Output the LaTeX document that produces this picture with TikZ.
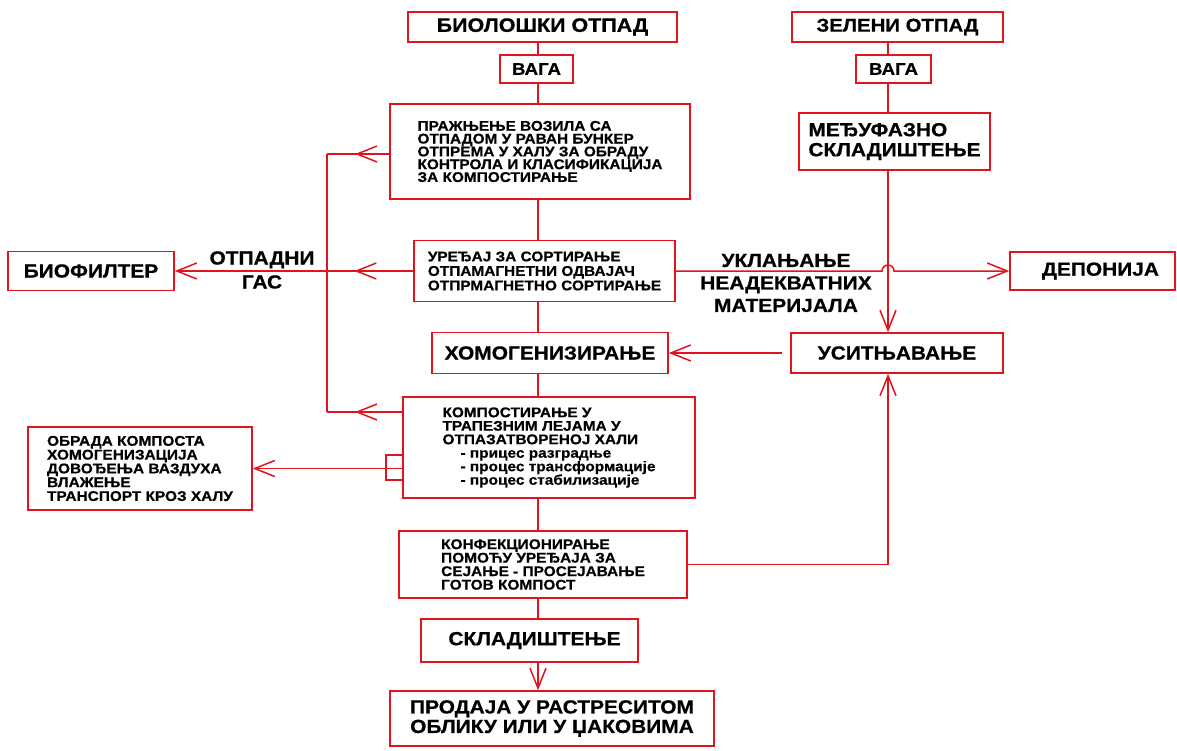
\documentclass[tikz,border=0pt]{standalone}
\usepackage{fontspec}
\setmainfont{Liberation Sans}[FakeStretch=1.1, BoldFeatures={FakeBold=0.6}]
\usetikzlibrary{arrows.meta,decorations.markings,calc}
\definecolor{lr}{RGB}{225,20,30}
\begin{document}
\begin{tikzpicture}[x=1pt,y=-1pt,
  box/.style={draw=lr, line width=1.5pt, inner sep=0pt, align=left},
  big/.style={font=\bfseries\fontsize{19}{22}\selectfont},
  title/.style={font=\bfseries\fontsize{19.5}{22}\selectfont},
  small/.style={font=\bfseries\fontsize{14}{13.5}\selectfont},
  lbl/.style={align=center, inner sep=0pt},
  conn/.style={draw=lr, line width=1.5pt},
  arr/.style={conn, -{Straight Barb[length=20pt,width=16pt]}},
  midarr/.style={conn, decoration={markings, mark=at position #1 with {\arrow{Straight Barb[length=20pt,width=16pt]}}}, postaction=decorate}
]
\fill[white] (0,0) rectangle (1177,751);
\useasboundingbox (0,0) rectangle (1177,751);
\coordinate (mx) at (538,0);
\coordinate (rx) at (888,0);
\coordinate (fb1) at (327,154);
\coordinate (fb3) at (327,412);

% left column (biological waste)
\node[box,title,minimum width=269pt,minimum height=30pt] (bio) at (542.5,27) {БИОЛОШКИ ОТПАД};
\node[box,big,minimum width=73pt,minimum height=28pt,font=\bfseries\fontsize{17}{20}\selectfont] (vaga1) at (536.5,69) {ВАГА};
\node[box,small,minimum width=300pt,minimum height=95pt,font=\bfseries\fontsize{14}{12.8}\selectfont] (prazn) at (540,151.5) {ПРАЖЊЕЊЕ ВОЗИЛА СА\\ОТПАДОМ У РАВАН БУНКЕР\\ОТПРЕМА У ХАЛУ ЗА ОБРАДУ\\КОНТРОЛА И КЛАСИФИКАЦИЈА\\ЗА КОМПОСТИРАЊЕ};
\node[box,small,minimum width=261pt,minimum height=61pt,font=\bfseries\fontsize{14}{14.5}\selectfont] (sort) at (544.5,271) {УРЕЂАЈ ЗА СОРТИРАЊЕ\\ОТПАМАГНЕТНИ ОДВАЈАЧ\\ОТПРМАГНЕТНО СОРТИРАЊЕ};
\node[box,big,minimum width=236pt,minimum height=41pt] (homog) at (550,353) {ХОМОГЕНИЗИРАЊЕ};
\node[box,small,minimum width=292pt,minimum height=101pt] (comp) at (549,447.5) {КОМПОСТИРАЊЕ У\\ТРАПЕЗНИМ ЛЕЈАМА У\\ОТПАЗАТВОРЕНОЈ ХАЛИ\\\hspace*{18pt}- прицес разградње\\\hspace*{18pt}- процес трансформације\\\hspace*{18pt}- процес стабилизације};
\node[box,small,minimum width=288pt,minimum height=67pt] (konf) at (543,564.5) {КОНФЕКЦИОНИРАЊЕ\\ПОМОЋУ УРЕЂАЈА ЗА\\СЕЈАЊЕ - ПРОСЕЈАВАЊЕ\\ГОТОВ КОМПОСТ};
\node[box,big,minimum width=217pt,minimum height=43pt] (sklad) at (529.5,640.5) {\hspace*{10pt}СКЛАДИШТЕЊЕ};
\node[box,big,align=center,minimum width=324pt,minimum height=55pt,font=\bfseries\fontsize{19}{19.5}\selectfont] (prod) at (552,718.5) {ПРОДАЈА У РАСТРЕСИТОМ\\ОБЛИКУ ИЛИ У ЏАКОВИМА};

% right column (green waste)
\node[box,title,minimum width=211pt,minimum height=30pt,font=\bfseries\fontsize{18.5}{22}\selectfont] (zel) at (897.5,27) {ЗЕЛЕНИ ОТПАД};
\node[box,big,minimum width=75pt,minimum height=28pt,font=\bfseries\fontsize{17}{20}\selectfont] (vaga2) at (893.5,69) {ВАГА};
\node[box,big,minimum width=191pt,minimum height=57pt,font=\bfseries\fontsize{19}{20}\selectfont] (medju) at (894.5,141.5) {МЕЂУФАЗНО\\СКЛАДИШТЕЊЕ};
\node[box,big,minimum width=212pt,minimum height=40pt] (usit) at (897,353) {УСИТЊАВАЊЕ};
\node[box,big,minimum width=165pt,minimum height=38pt] (dep) at (1092.5,271) {\hspace*{16pt}ДЕПОНИЈА};

% left side
\node[box,big,minimum width=166pt,minimum height=39pt] (biof) at (91,271) {БИОФИЛТЕР};
\node[box,small,minimum width=224pt,minimum height=83pt,font=\bfseries\fontsize{14}{13.8}\selectfont] (obr) at (140,468.5) {ОБРАДА КОМПОСТА\\ХОМОГЕНИЗАЦИЈА\\ДОВОЂЕЊА ВАЗДУХА\\ВЛАЖЕЊЕ\\ТРАНСПОРТ КРОЗ ХАЛУ};

% labels
\node[lbl,big,font=\bfseries\fontsize{19}{24}\selectfont] (gas) at (262,270) {ОТПАДНИ\\ГАС};
\node[lbl,big,font=\bfseries\fontsize{19}{22.5}\selectfont] (ukl) at (786,283) {УКЛАЊАЊЕ\\НЕАДЕКВАТНИХ\\МАТЕРИЈАЛА};

% main vertical line
\draw[conn] (bio.south -| mx) -- (vaga1.north -| mx);
\draw[conn] (vaga1.south -| mx) -- (prazn.north -| mx);
\draw[conn] (prazn.south -| mx) -- (sort.north -| mx);
\draw[conn] (sort.south -| mx) -- (homog.north -| mx);
\draw[conn] (homog.south -| mx) -- (comp.north -| mx);
\draw[conn] (comp.south -| mx) -- (konf.north -| mx);
\draw[conn] (konf.south -| mx) -- (sklad.north -| mx);
\draw[arr] (sklad.south -| mx) -- (prod.north -| mx);

% right vertical line
\draw[conn] (zel.south -| rx) -- (vaga2.north -| rx);
\draw[conn] (vaga2.south -| rx) -- (medju.north -| rx);
\draw[arr] (medju.south -| rx) -- (usit.north -| rx);
\draw[arr] (konf.east) -- (konf.east -| rx) -- (usit.south -| rx);
\draw[arr, shorten <=8pt] (usit.west) -- (homog.east);

% removal to landfill with jump
\draw[arr] (sort.east) -- ($(sort.east -| rx)+(-6,0)$) arc[start angle=180,end angle=0,radius=6pt] -- (dep.west);

% exhaust gas feedback
\draw[midarr=-28pt] (prazn.west |- fb1) -- (fb1);
\draw[conn] (fb1) -- (fb3);
\draw[midarr=-28pt] (comp.west |- fb3) -- (fb3);
\draw[arr, midarr=59pt] (sort.west) -- (biof.east);

% compost processing bracket
\coordinate (br1) at (386,455);
\coordinate (br2) at (386,480);
\draw[conn] (comp.west |- br1) -- (br1) -- (br2) -- (comp.west |- br2);
\draw[arr] (comp.west |- obr.east) -- (obr.east);
\end{tikzpicture}
\end{document}
